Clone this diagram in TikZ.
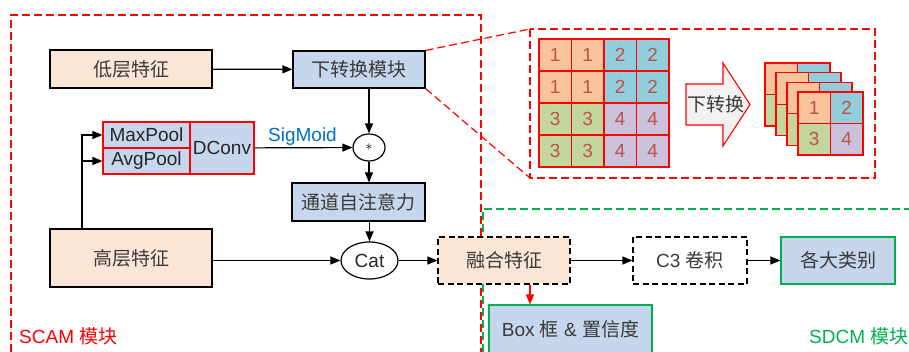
\documentclass[tikz,border=0pt]{standalone}
\usepackage{fontspec}
\setmainfont{Liberation Sans}
\newfontfamily\cjk{Noto Sans CJK SC}
\usetikzlibrary{arrows.meta,positioning,calc,shapes.geometric}
\definecolor{fpeach}{HTML}{FBE5D6}
\definecolor{fblue}{HTML}{C6D6EC}
\definecolor{cell1}{HTML}{F9C39B}
\definecolor{cell2}{HTML}{92CDDC}
\definecolor{cell3}{HTML}{C3D69B}
\definecolor{cell4}{HTML}{CCC1DA}
\definecolor{numred}{HTML}{C0504D}
\definecolor{sigblue}{HTML}{0070C0}
\definecolor{tgray}{HTML}{3A3A3A}
\definecolor{sgreen}{HTML}{00B050}
\definecolor{agray}{HTML}{F2F2F2}
\tikzset{
  txt/.style={font=\fontsize{19}{22}\selectfont,text=tgray,inner sep=0pt},
  zh/.style={txt,font=\fontsize{19}{22}\selectfont\cjk},
  box/.style={draw=black,line width=1.2pt,align=center},
  peach/.style={box,fill=fpeach},
  blue/.style={box,fill=fblue},
  pool/.style={draw=red,line width=1.2pt,fill=fblue,txt,text=black!85},
  dbox/.style={box,dash pattern=on 6pt off 3.5pt},
  gbox/.style={fill=fblue,draw=sgreen,line width=1.2pt},
  cell/.style={draw=red,line width=1.1pt,minimum width=32.5pt,minimum height=32pt,txt,text=numred},
  scell/.style={cell,minimum height=31.5pt},
  arr/.style={-{Triangle[length=10pt,width=8pt]},line width=1.2pt,draw=black},
  rarr/.style={arr,draw=red,-{Triangle[length=10pt,width=8pt,fill=red]}},
  zone/.style={line width=1.2pt,dash pattern=on 8pt off 4pt},
}

\begin{document}
\begin{tikzpicture}[x=1pt,y=-1pt]
  \useasboundingbox (0,0) rectangle (909,352);
  \clip (0,0) rectangle (909,352);

  % module frames
  \draw[zone,red] (11,352) -- (11,15) -- (481,15) -- (481,352);
  \draw[zone,sgreen] (483,352) -- (483,209) -- (909,209);
  \node[txt,text=red,anchor=base west] (scam) at (19,343) {SCAM {\cjk 模块}};
  \node[txt,text=sgreen,anchor=base west] (sdcm) at (809,343) {SDCM {\cjk 模块}};

  % SCAM
  \node[peach,zh,minimum width=162pt,minimum height=38pt] (lowfeat) at (131,69) {低层特征};
  \node[blue,zh,minimum width=132pt,minimum height=37pt] (downconv) at (359,69.5) {下转换模块};
  \node[draw,ellipse,line width=1.2pt,minimum width=32pt,minimum height=27pt,inner sep=0pt,font=\fontsize{15}{16}\selectfont] (mul) at (369,147.5) {$\ast$};
  \node[pool,minimum width=87pt,minimum height=26pt] (maxpool) at (146.5,135) {MaxPool};
  \node[pool,minimum width=87pt,minimum height=26pt] (avgpool) at (146.5,161) {AvgPool};
  \node[pool,minimum width=64pt,minimum height=52pt] (dconv) at (222,148) {DConv};
  \node[txt,text=sigblue,anchor=base] (sig) at (302.5,141.5) {SigMoid};
  \node[blue,zh,minimum width=133pt,minimum height=38pt] (chatt) at (358.5,202) {通道自注意力};
  \node[draw,ellipse,line width=1.2pt,minimum width=57pt,minimum height=37pt,txt,text=black!85] (cat) at (369.5,260.5) {Cat};
  \node[peach,zh,minimum width=162pt,minimum height=58pt] (highfeat) at (131,258) {高层特征};
  \coordinate (trunk) at (82,0);

  \draw[arr] (lowfeat) -- (downconv);
  \draw[arr] (downconv.south -| mul) -- (mul);
  \draw[arr] (dconv) -- (mul);
  \draw[arr] (mul) -- (mul |- chatt.north);
  \draw[arr] (chatt.south -| cat) -- (cat);
  \draw[arr] (highfeat.east |- cat) -- (cat);
  \draw[arr] (trunk |- highfeat.north) -- (trunk |- maxpool) -- (maxpool);
  \draw[arr] (trunk |- avgpool) -- (avgpool);

  % SDCM
  \node[dbox,fill=fpeach,zh,minimum width=132pt,minimum height=47pt] (fuse) at (504,260.5) {融合特征};
  \node[dbox,fill=white,txt,minimum width=114pt,minimum height=47pt] (cthree) at (690,260.5) {C3 {\cjk 卷积}};
  \node[gbox,zh,minimum width=114pt,minimum height=47pt] (classes) at (838,260.5) {各大类别};
  \node[gbox,txt,minimum width=163pt,minimum height=48pt] (boxconf) at (570.5,329) {Box {\cjk 框} \& {\cjk 置信度}};

  \draw[arr] (cat) -- (fuse);
  \draw[arr] (fuse) -- (cthree);
  \draw[arr] (cthree) -- (classes);
  \coordinate (drop) at (530,0);
  \draw[rarr] (fuse.south -| drop) -- (boxconf.north -| drop);

  % zoomed view of the down-conversion
  \coordinate (zin-nw) at (530,29);
  \coordinate (zin-se) at (875,178);
  \draw[zone,red] (zin-nw) rectangle (zin-se);
  \draw[zone,red] (downconv.north east) -- (zin-nw);
  \draw[zone,red] (downconv.south east) -- (zin-nw |- zin-se);

  \foreach \row [count=\i from 0] in {{1,1,2,2},{1,1,2,2},{3,3,4,4},{3,3,4,4}}
    \foreach \v [count=\j from 0] in \row
      \node[cell,fill=cell\v] (g-\i-\j) at (555.25+32.5*\j,55+32*\i) {\v};

  \draw[red,line width=1.1pt,fill=agray] (686,84) -- (723,84) -- (723,63) -- (750,104.5)
    -- (723,146) -- (723,125) -- (686,125) -- cycle;
  \node[zh] (dtext) at (716,104.5) {下转换};

  \foreach \k in {0,1,2}
    \foreach \i/\j/\v in {0/0/1,0/1/2,1/0/3,1/1/4}
      \node[scell,fill=cell\v] (s-\k-\i-\j) at (781.25+11*\k+32.5*\j,78.75+9.7*\k+31.5*\i) {};
  \foreach \i/\j/\v in {0/0/1,0/1/2,1/0/3,1/1/4}
    \node[scell,fill=cell\v] (s-3-\i-\j) at (814.25+32.5*\j,107.75+31.5*\i) {\v};
\end{tikzpicture}
\end{document}
